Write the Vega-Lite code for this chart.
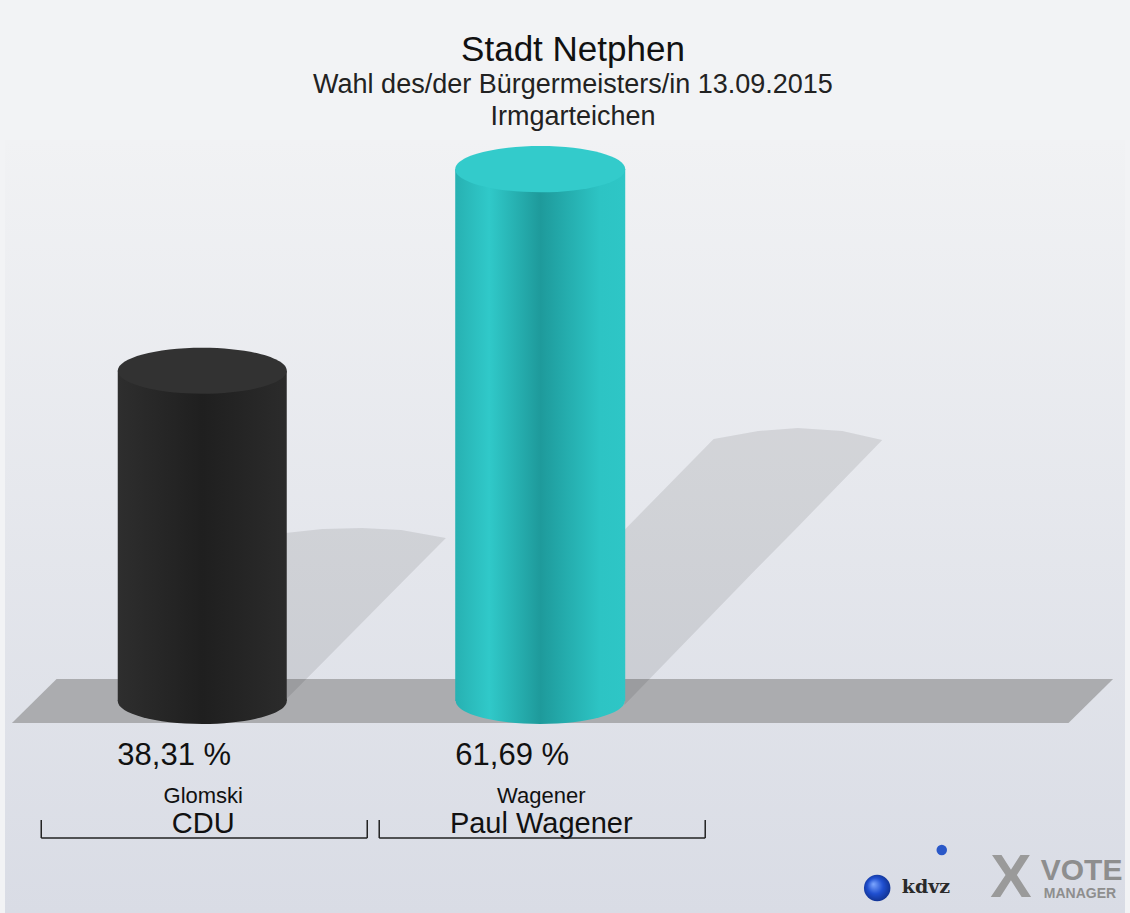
{
  "$schema": "https://vega.github.io/schema/vega-lite/v6.json",
  "width": 1130,
  "height": 773,
  "autosize": {"type": "none"},
  "padding": {"top": 140, "left": 0, "right": 0, "bottom": 0},
  "background": "#f2f3f5",
  "title": {
    "text": "Stadt Netphen",
    "subtitle": ["Wahl des/der Bürgermeisters/in 13.09.2015", "Irmgarteichen"],
    "anchor": "middle",
    "dx": 8,
    "font": "Liberation Sans",
    "fontSize": 35,
    "fontWeight": "normal",
    "color": "#111111",
    "subtitleFont": "Liberation Sans",
    "subtitleFontSize": 27,
    "subtitleColor": "#222222",
    "subtitleLineHeight": 32,
    "subtitlePadding": 4,
    "offset": 10
  },
  "config": {
    "view": {"stroke": null},
    "axis": {"disable": true},
    "text": {"font": "Liberation Sans"}
  },
  "datasets": {
    "cands": [
      {"pos": 0, "name": "Glomski", "party": "CDU", "pct": 38.31, "label": "38,31 %"},
      {"pos": 1, "name": "Wagener", "party": "Paul Wagener", "pct": 61.69, "label": "61,69 %"}
    ],
    "floor": [
      {"fx": -0.563, "top": -2.55, "bot": -2.55},
      {"fx": -0.431, "top": 2.55, "bot": -2.55},
      {"fx": 2.563, "top": 2.55, "bot": -2.55},
      {"fx": 2.695, "top": 2.55, "bot": 2.55}
    ],
    "shadows": [
      {"bar": "Glomski", "sx": 0.246, "top": 19.49, "bot": 0.12},
      {"bar": "Glomski", "sx": 0.355, "top": 19.95, "bot": 4.41},
      {"bar": "Glomski", "sx": 0.472, "top": 20.07, "bot": 9.05},
      {"bar": "Glomski", "sx": 0.589, "top": 19.84, "bot": 13.69},
      {"bar": "Glomski", "sx": 0.721, "top": 18.91, "bot": 18.91},
      {"bar": "Wagener", "sx": 1.249, "top": 19.84, "bot": -0.46},
      {"bar": "Wagener", "sx": 1.381, "top": 25.12, "bot": 4.87},
      {"bar": "Wagener", "sx": 1.513, "top": 30.39, "bot": 10.21},
      {"bar": "Wagener", "sx": 1.645, "top": 31.32, "bot": 15.55},
      {"bar": "Wagener", "sx": 1.762, "top": 31.67, "bot": 20.19},
      {"bar": "Wagener", "sx": 1.894, "top": 31.32, "bot": 25.52},
      {"bar": "Wagener", "sx": 2.012, "top": 30.28, "bot": 30.28}
    ]
  },
  "layer": [
    {
      "data": {"values": [{}]},
      "mark": {
        "type": "rect",
        "color": {"gradient": "linear", "x1": 0, "y1": 0, "x2": 0, "y2": 1,
          "stops": [{"offset": 0, "color": "#f1f2f4"}, {"offset": 1, "color": "#d9dce5"}]}
      },
      "encoding": {
        "x": {"datum": -0.5836, "type": "quantitative", "scale": {"domain": [-0.5836, 2.7302], "nice": false, "zero": false}},
        "x2": {"datum": 2.7302},
        "y": {"datum": 65.08, "type": "quantitative", "scale": {"domain": [-24.59, 65.08], "nice": false, "zero": false}},
        "y2": {"datum": -24.59}
      }
    },
    {
      "data": {"name": "floor"},
      "mark": {"type": "area", "color": "#abacaf", "opacity": 1},
      "encoding": {
        "x": {"field": "fx", "type": "quantitative"},
        "y": {"field": "top", "type": "quantitative"},
        "y2": {"field": "bot"}
      }
    },
    {
      "data": {"name": "shadows"},
      "mark": {"type": "area", "color": "#000000", "opacity": 0.09},
      "encoding": {
        "x": {"field": "sx", "type": "quantitative"},
        "y": {"field": "top", "type": "quantitative"},
        "y2": {"field": "bot"},
        "detail": {"field": "bar"}
      }
    },
    {
      "data": {"name": "cands"},
      "transform": [{"filter": "datum.name === 'Glomski'"}],
      "layer": [
        {
          "mark": {"type": "point", "filled": true, "opacity": 1, "strokeWidth": 0, "size": 28561,
            "shape": "M-1,0A1,0.272,0,1,0,1,0A1,0.272,0,1,0,-1,0Z",
            "color": {"gradient": "linear", "x1": 0, "y1": 0, "x2": 1, "y2": 0,
              "stops": [{"offset": 0, "color": "#2e2e2e"}, {"offset": 0.5, "color": "#1f1f1f"}, {"offset": 1, "color": "#2b2b2b"}]}},
          "encoding": {"x": {"field": "pos", "type": "quantitative"}, "y": {"datum": 0}}
        },
        {
          "mark": {"type": "bar", "width": 169,
            "color": {"gradient": "linear", "x1": 0, "y1": 0, "x2": 1, "y2": 0,
              "stops": [{"offset": 0, "color": "#2e2e2e"}, {"offset": 0.5, "color": "#1f1f1f"}, {"offset": 1, "color": "#2b2b2b"}]}},
          "encoding": {"x": {"field": "pos", "type": "quantitative"}, "y": {"field": "pct", "type": "quantitative"}, "y2": {"datum": 0}}
        },
        {
          "mark": {"type": "point", "filled": true, "opacity": 1, "strokeWidth": 0, "size": 28561,
            "shape": "M-1,0A1,0.272,0,1,0,1,0A1,0.272,0,1,0,-1,0Z", "color": "#323232"},
          "encoding": {"x": {"field": "pos", "type": "quantitative"}, "y": {"field": "pct", "type": "quantitative"}}
        }
      ]
    },
    {
      "data": {"name": "cands"},
      "transform": [{"filter": "datum.name === 'Wagener'"}],
      "layer": [
        {
          "mark": {"type": "point", "filled": true, "opacity": 1, "strokeWidth": 0, "size": 28561,
            "shape": "M-1,0A1,0.272,0,1,0,1,0A1,0.272,0,1,0,-1,0Z",
            "color": {"gradient": "linear", "x1": 0, "y1": 0, "x2": 1, "y2": 0,
              "stops": [{"offset": 0, "color": "#27b1b2"}, {"offset": 0.2, "color": "#30c9c9"}, {"offset": 0.5, "color": "#1e9a9b"}, {"offset": 0.6, "color": "#22a6a7"}, {"offset": 0.85, "color": "#2dc4c4"}, {"offset": 1, "color": "#2ec6c6"}]}},
          "encoding": {"x": {"field": "pos", "type": "quantitative"}, "y": {"datum": 0}}
        },
        {
          "mark": {"type": "bar", "width": 170,
            "color": {"gradient": "linear", "x1": 0, "y1": 0, "x2": 1, "y2": 0,
              "stops": [{"offset": 0, "color": "#27b1b2"}, {"offset": 0.2, "color": "#30c9c9"}, {"offset": 0.5, "color": "#1e9a9b"}, {"offset": 0.6, "color": "#22a6a7"}, {"offset": 0.85, "color": "#2dc4c4"}, {"offset": 1, "color": "#2ec6c6"}]}},
          "encoding": {"x": {"field": "pos", "type": "quantitative"}, "y": {"field": "pct", "type": "quantitative"}, "y2": {"datum": 0}}
        },
        {
          "mark": {"type": "point", "filled": true, "opacity": 1, "strokeWidth": 0, "size": 28900,
            "shape": "M-1,0A1,0.272,0,1,0,1,0A1,0.272,0,1,0,-1,0Z", "color": "#33cbcb"},
          "encoding": {"x": {"field": "pos", "type": "quantitative"}, "y": {"field": "pct", "type": "quantitative"}}
        }
      ]
    },
    {
      "data": {"name": "cands"},
      "mark": {"type": "text", "fontSize": 31, "dx": -28, "align": "center", "baseline": "alphabetic", "color": "#111111"},
      "encoding": {"x": {"field": "pos", "type": "quantitative"}, "y": {"datum": -7.42}, "text": {"field": "label"}}
    },
    {
      "data": {"name": "cands"},
      "mark": {"type": "text", "fontSize": 22, "dx": 1, "align": "center", "baseline": "alphabetic", "color": "#111111"},
      "encoding": {"x": {"field": "pos", "type": "quantitative"}, "y": {"datum": -11.8}, "text": {"field": "name"}}
    },
    {
      "data": {"name": "cands"},
      "mark": {"type": "text", "fontSize": 29, "dx": 1, "align": "center", "baseline": "alphabetic", "color": "#111111"},
      "encoding": {"x": {"field": "pos", "type": "quantitative"}, "y": {"datum": -15.31}, "text": {"field": "party"}}
    },
    {
      "data": {"name": "cands"},
      "mark": {"type": "rule", "xOffset": -161, "x2Offset": 165, "color": "#222222", "strokeWidth": 1.5},
      "encoding": {"x": {"field": "pos", "type": "quantitative"}, "x2": {"field": "pos"}, "y": {"datum": -15.89}}
    },
    {
      "data": {"name": "cands"},
      "mark": {"type": "rule", "xOffset": -161, "color": "#222222", "strokeWidth": 1.5},
      "encoding": {"x": {"field": "pos", "type": "quantitative"}, "y": {"datum": -13.8}, "y2": {"datum": -15.89}}
    },
    {
      "data": {"name": "cands"},
      "mark": {"type": "rule", "xOffset": 165, "color": "#222222", "strokeWidth": 1.5},
      "encoding": {"x": {"field": "pos", "type": "quantitative"}, "y": {"datum": -13.8}, "y2": {"datum": -15.89}}
    },
    {
      "data": {"values": [{"part": "sphere"}]},
      "mark": {"type": "point", "shape": "circle", "filled": true, "opacity": 1, "size": 700,
        "color": {"gradient": "radial", "x1": 0.35, "y1": 0.35, "r1": 0, "x2": 0.5, "y2": 0.5, "r2": 0.6,
          "stops": [{"offset": 0, "color": "#7fa8ff"}, {"offset": 0.5, "color": "#1f4fd0"}, {"offset": 1, "color": "#0d2a80"}]}},
      "encoding": {"x": {"datum": 1.997}, "y": {"datum": -21.69}}
    },
    {
      "data": {"values": [{"part": "dot"}]},
      "mark": {"type": "point", "shape": "circle", "filled": true, "opacity": 1, "size": 110, "color": "#2a58c8"},
      "encoding": {"x": {"datum": 2.188}, "y": {"datum": -17.29}}
    },
    {
      "data": {"values": [{"t": "kdvz"}]},
      "mark": {"type": "text", "font": "DejaVu Serif", "fontWeight": "bold", "fontSize": 19, "align": "left", "baseline": "alphabetic", "color": "#2a2a2a"},
      "encoding": {"x": {"datum": 2.07}, "y": {"datum": -22.27}, "text": {"field": "t"}}
    },
    {
      "data": {"values": [{"t": "X"}]},
      "mark": {"type": "text", "fontWeight": "bold", "fontSize": 62, "align": "center", "baseline": "alphabetic", "color": "#9a9a9a"},
      "encoding": {"x": {"datum": 2.393}, "y": {"datum": -22.7}, "text": {"field": "t"}}
    },
    {
      "data": {"values": [{"t": "VOTE"}]},
      "mark": {"type": "text", "fontWeight": "bold", "fontSize": 30, "align": "left", "baseline": "alphabetic", "color": "#8e8e8e"},
      "encoding": {"x": {"datum": 2.481}, "y": {"datum": -20.77}, "text": {"field": "t"}}
    },
    {
      "data": {"values": [{"t": "MANAGER"}]},
      "mark": {"type": "text", "fontWeight": "bold", "fontSize": 14, "align": "left", "baseline": "alphabetic", "color": "#8e8e8e"},
      "encoding": {"x": {"datum": 2.49}, "y": {"datum": -22.85}, "text": {"field": "t"}}
    }
  ]
}
